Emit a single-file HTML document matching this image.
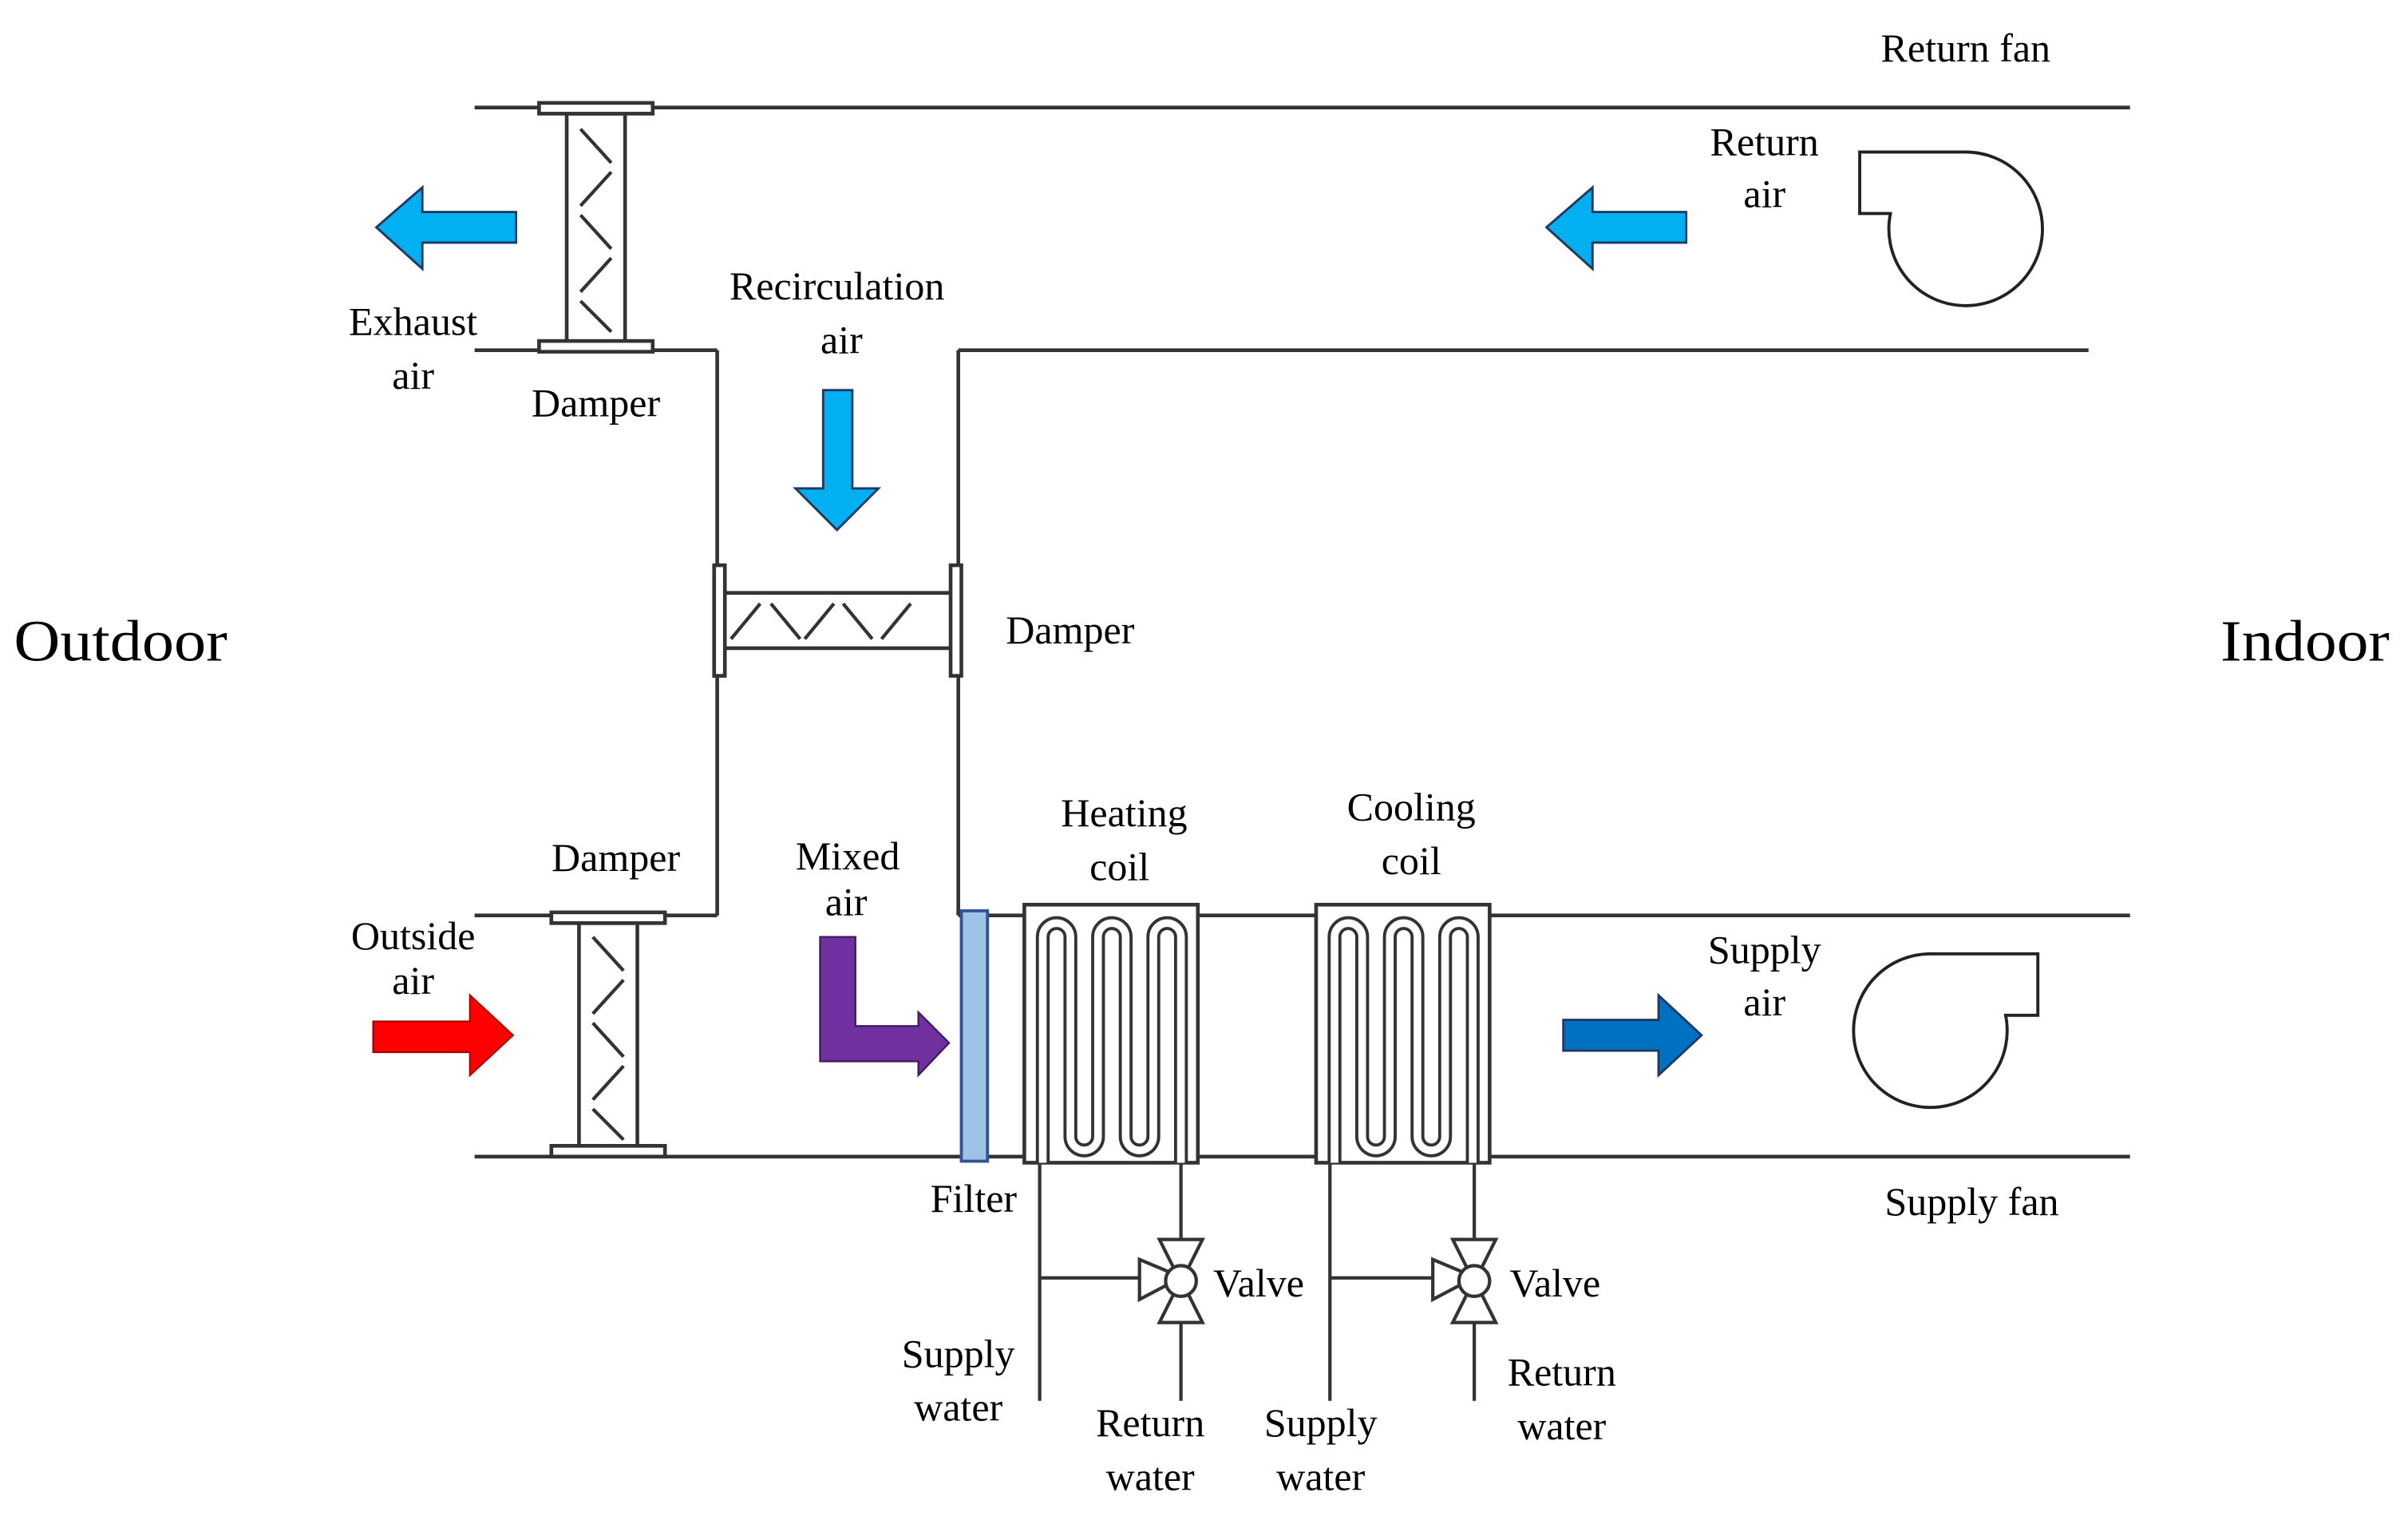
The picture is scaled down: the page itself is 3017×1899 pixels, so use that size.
<!DOCTYPE html>
<html><head><meta charset="utf-8"><style>
html,body{margin:0;padding:0;background:#fff;}
svg{display:block;}
text{font-family:"Liberation Serif",serif;fill:#000;}
</style></head><body>
<svg width="3017" height="1899" viewBox="0 0 1568 987" xmlns="http://www.w3.org/2000/svg">
<g stroke="#333" stroke-width="2.4" fill="none">
<line x1="309" y1="70" x2="1387" y2="70"/>
<line x1="309" y1="228" x2="467" y2="228"/>
<line x1="624" y1="228" x2="1360" y2="228"/>
<line x1="467" y1="228" x2="467" y2="596"/>
<line x1="624" y1="228" x2="624" y2="596"/>
<line x1="309" y1="596" x2="467" y2="596"/>
<line x1="624" y1="596" x2="1387" y2="596"/>
<line x1="309" y1="753" x2="1387" y2="753"/>
</g>
<g stroke="#333" stroke-width="2.4" fill="#fff">
<rect x="369" y="74" width="38" height="150"/>
<rect x="351" y="67" width="74" height="7"/>
<rect x="351" y="222" width="74" height="7"/>
<rect x="377" y="601" width="38" height="146"/>
<rect x="359" y="594" width="74" height="7"/>
<rect x="359" y="746" width="74" height="7"/>
<rect x="471" y="386" width="149" height="36"/>
<rect x="465" y="368" width="7" height="72"/>
<rect x="619" y="368" width="7" height="72"/>
</g>
<g stroke="#333" stroke-width="2.2" fill="none">
<path d="M378,84 L398,106 M398,112 L378,134 M378,140 L398,162 M398,168 L378,190 M378,196 L398,216"/>
<path d="M386,610 L406,632 M406,638 L386,660 M386,666 L406,688 M406,694 L386,716 M386,722 L406,742"/>
<path d="M476,416 L495,393 M502,393 L521,416 M524,416 L543,393 M549,393 L568,416 M574,416 L593,393"/>
</g>
<rect x="626" y="593" width="17" height="163" fill="#9dc3e6" stroke="#2f5597" stroke-width="2"/>
<g stroke="#333" stroke-width="2.4" fill="#fff">
<rect x="667" y="589" width="113" height="168"/>
<rect x="857" y="589" width="113" height="168"/>
</g>
<g fill="none">
<path d="M679,757 L679,610 A9,9 0 0 1 697,610 L697,740 A9,9 0 0 0 715,740 L715,610 A9,9 0 0 1 733,610 L733,740 A9,9 0 0 0 751,740 L751,610 A9,9 0 0 1 769,610 L769,757" stroke="#333" stroke-width="9"/>
<path d="M679,757 L679,610 A9,9 0 0 1 697,610 L697,740 A9,9 0 0 0 715,740 L715,610 A9,9 0 0 1 733,610 L733,740 A9,9 0 0 0 751,740 L751,610 A9,9 0 0 1 769,610 L769,757" stroke="#fff" stroke-width="5"/>
<path d="M869,757 L869,610 A9,9 0 0 1 887,610 L887,740 A9,9 0 0 0 905,740 L905,610 A9,9 0 0 1 923,610 L923,740 A9,9 0 0 0 941,740 L941,610 A9,9 0 0 1 959,610 L959,757" stroke="#333" stroke-width="9"/>
<path d="M869,757 L869,610 A9,9 0 0 1 887,610 L887,740 A9,9 0 0 0 905,740 L905,610 A9,9 0 0 1 923,610 L923,740 A9,9 0 0 0 941,740 L941,610 A9,9 0 0 1 959,610 L959,757" stroke="#fff" stroke-width="5"/>
</g>
<g stroke="#333" stroke-width="2.2" fill="#fff">
<line x1="677" y1="757" x2="677" y2="912"/>
<line x1="677" y1="832" x2="742" y2="832"/>
<line x1="769" y1="757" x2="769" y2="807"/>
<line x1="769" y1="860" x2="769" y2="912"/>
<line x1="866" y1="757" x2="866" y2="912"/>
<line x1="866" y1="832" x2="933" y2="832"/>
<line x1="960" y1="757" x2="960" y2="807"/>
<line x1="960" y1="860" x2="960" y2="912"/>
<g>
<path d="M742,820 L742,846 L761,836 L761,828 Z"/>
<path d="M755,807 L783,807 L774,825 L764,825 Z"/>
<path d="M755,861 L783,861 L774,843 L764,843 Z"/>
<circle cx="769" cy="834" r="10"/>
</g>
<g transform="translate(191,0)">
<path d="M742,820 L742,846 L761,836 L761,828 Z"/>
<path d="M755,807 L783,807 L774,825 L764,825 Z"/>
<path d="M755,861 L783,861 L774,843 L764,843 Z"/>
<circle cx="769" cy="834" r="10"/>
</g>
</g>
<g stroke="#222" stroke-width="2" fill="none">
<path d="M1232,139 L1211,139 L1211,99 L1280,99 A50,50 0 1 1 1231,139"/>
<path d="M1258,621 L1327,621 L1327,661 L1306,661 A50,50 0 1 1 1258,621"/>
</g>
<g stroke="#1f3864" stroke-width="1.5">
<path d="M336,138 L275,138 L275,122 L245,148 L275,175 L275,158 L336,158 Z" fill="#00b0f0"/>
<path d="M1098,138 L1037,138 L1037,122 L1007,148 L1037,175 L1037,158 L1098,158 Z" fill="#00b0f0"/>
<path d="M536,254 L555,254 L555,318 L572,318 L545,345 L518,318 L536,318 Z" fill="#00b0f0"/>
<path d="M1018,664 L1080,664 L1080,648 L1108,674 L1080,700 L1080,684 L1018,684 Z" fill="#0070c0"/>
</g>
<path d="M243,665 L306,665 L306,648 L334,674 L306,700 L306,685 L243,685 Z" fill="#ff0000" stroke="#a00" stroke-width="1.2"/>
<path d="M534,610 L557,610 L557,668 L598,668 L598,659 L618,679 L598,700 L598,691 L534,691 Z" fill="#7030a0" stroke="#3f1a5c" stroke-width="1.2"/>
<g font-size="26">
<text x="1280" y="40" text-anchor="middle">Return fan</text>
<text x="1149" y="101" text-anchor="middle">Return</text>
<text x="1149" y="135" text-anchor="middle">air</text>
<text x="269" y="218" text-anchor="middle">Exhaust</text>
<text x="269" y="253" text-anchor="middle">air</text>
<text x="388" y="271" text-anchor="middle">Damper</text>
<text x="545" y="195" text-anchor="middle">Recirculation</text>
<text x="548" y="230" text-anchor="middle">air</text>
<text x="655" y="419">Damper</text>
<text x="401" y="567" text-anchor="middle">Damper</text>
<text x="552" y="566" text-anchor="middle">Mixed</text>
<text x="551" y="596" text-anchor="middle">air</text>
<text x="269" y="618" text-anchor="middle">Outside</text>
<text x="269" y="647" text-anchor="middle">air</text>
<text x="732" y="538" text-anchor="middle">Heating</text>
<text x="729" y="573" text-anchor="middle">coil</text>
<text x="919" y="534" text-anchor="middle">Cooling</text>
<text x="919" y="569" text-anchor="middle">coil</text>
<text x="1149" y="627" text-anchor="middle">Supply</text>
<text x="1149" y="661" text-anchor="middle">air</text>
<text x="634" y="789" text-anchor="middle">Filter</text>
<text x="1284" y="791" text-anchor="middle">Supply fan</text>
<text x="790" y="844">Valve</text>
<text x="983" y="844">Valve</text>
<text x="624" y="890" text-anchor="middle">Supply</text>
<text x="624" y="925" text-anchor="middle">water</text>
<text x="749" y="935" text-anchor="middle">Return</text>
<text x="749" y="970" text-anchor="middle">water</text>
<text x="860" y="935" text-anchor="middle">Supply</text>
<text x="860" y="970" text-anchor="middle">water</text>
<text x="1017" y="902" text-anchor="middle">Return</text>
<text x="1017" y="937" text-anchor="middle">water</text>
</g>
<text x="9" y="430" font-size="38" textLength="139" lengthAdjust="spacingAndGlyphs">Outdoor</text>
<text x="1446" y="430" font-size="38" textLength="110" lengthAdjust="spacingAndGlyphs">Indoor</text>
</svg>
</body></html>
